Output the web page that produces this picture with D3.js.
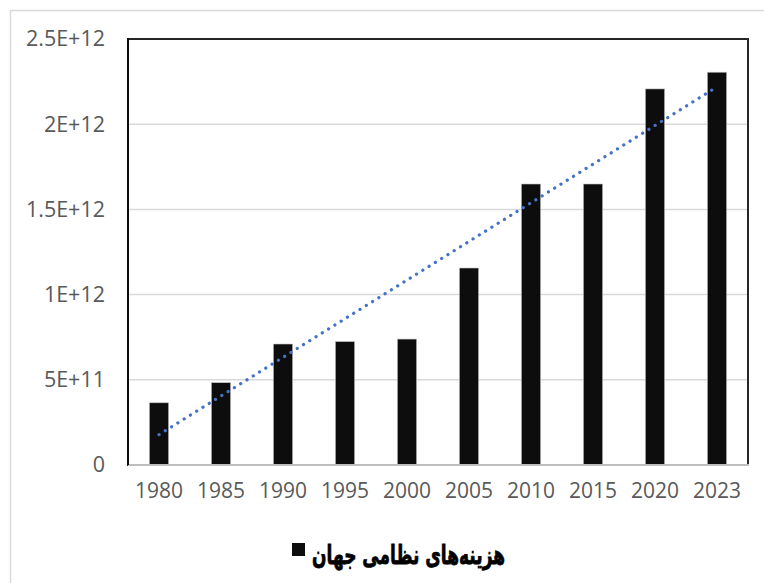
<!DOCTYPE html>
<html>
<head>
<meta charset="utf-8">
<script src="https://cdn.jsdelivr.net/npm/d3@7"></script>
<style>
  html, body { margin: 0; padding: 0; background: #fff; }
  svg { display: block; }
</style>
</head>
<body>
<svg id="chart" width="764" height="583"></svg>
<script>
// Data
const years = ["1980", "1985", "1990", "1995", "2000", "2005", "2010", "2015", "2020", "2023"];
const spending = [3.65e11, 4.83e11, 7.10e11, 7.24e11, 7.39e11, 1.156e12, 1.649e12, 1.649e12, 2.207e12, 2.305e12];
const yTicks = [0, 5e11, 1e12, 1.5e12, 2e12, 2.5e12];
const yTickLabels = ["0", "5E+11", "1E+12", "1.5E+12", "2E+12", "2.5E+12"];
const legendLabel = "هزینه‌های نظامی جهان";

const svg = d3.select("#chart");
const plot = { left: 128, right: 748, top: 39, bottom: 465 };

// Outer chart border
svg.append("rect")
  .attr("x", 10.5).attr("y", 10.5)
  .attr("width", 800).attr("height", 800)
  .attr("fill", "#fff").attr("stroke", "#d9d9d9").attr("stroke-width", 1.5);

const x = d3.scaleBand().domain(years).range([plot.left, plot.right]).padding(0);
const y = d3.scaleLinear().domain([0, 2.5e12]).range([plot.bottom, plot.top]);

// Gridlines
svg.append("g").selectAll("line")
  .data(yTicks.slice(1))
  .join("line")
  .attr("x1", plot.left).attr("x2", plot.right)
  .attr("y1", d => y(d)).attr("y2", d => y(d))
  .attr("stroke", "#d9d9d9").attr("stroke-width", 1.5);

// Y axis labels
const yAxis = d3.axisLeft(y).tickValues(yTicks)
  .tickFormat((d, i) => yTickLabels[i]).tickSize(0).tickPadding(23);
const gy = svg.append("g").attr("transform", `translate(${plot.left},0)`).call(yAxis);
gy.select(".domain").remove();
gy.selectAll("text")
  .attr("font-family", "'Open Sans', sans-serif")
  .attr("font-size", "21.5px")
  .attr("fill", "#595959");

// Bars
const barW = x.bandwidth() * 0.31;
svg.append("g").selectAll("rect")
  .data(years.map((d, i) => ({ year: d, v: spending[i] })))
  .join("rect")
  .attr("x", d => x(d.year) + (x.bandwidth() - barW) / 2)
  .attr("width", barW)
  .attr("y", d => y(d.v))
  .attr("height", d => y(0) - y(d.v))
  .attr("fill", "#0d0d0d")
  .attr("stroke", "#bfbfbf").attr("stroke-width", 0.6);

// Linear trendline (least squares over category index)
const n = spending.length;
const xs = d3.range(1, n + 1);
const mx = d3.mean(xs), my = d3.mean(spending);
const slope = d3.sum(xs.map((xi, i) => (xi - mx) * (spending[i] - my))) / d3.sum(xs.map(xi => (xi - mx) ** 2));
const intercept = my - slope * mx;
const trend = [
  { cx: x(years[0]) + x.bandwidth() / 2, v: intercept + slope * 1 },
  { cx: x(years[n - 1]) + x.bandwidth() / 2, v: intercept + slope * n }
];
svg.append("path")
  .attr("d", d3.line().x(d => d.cx).y(d => y(d.v))(trend))
  .attr("fill", "none")
  .attr("stroke", "#4472c4")
  .attr("stroke-width", 3.2)
  .attr("stroke-linecap", "round")
  .attr("stroke-dasharray", "0.1 7.3");

// Plot area border
svg.append("rect")
  .attr("x", plot.left).attr("y", plot.top)
  .attr("width", plot.right - plot.left).attr("height", plot.bottom - plot.top)
  .attr("fill", "none").attr("stroke", "#262626").attr("stroke-width", 2);

// Bottom axis line
svg.append("line")
  .attr("x1", plot.left).attr("x2", plot.right + 1)
  .attr("y1", plot.bottom).attr("y2", plot.bottom)
  .attr("stroke", "#bfbfbf").attr("stroke-width", 2.2);
svg.append("line")
  .attr("x1", plot.left).attr("x2", plot.left)
  .attr("y1", plot.top - 1).attr("y2", plot.bottom)
  .attr("stroke", "#0d0d0d").attr("stroke-width", 2);

// X axis labels
const xAxis = d3.axisBottom(x).tickSize(0).tickPadding(18);
const gx = svg.append("g").attr("transform", `translate(0,${plot.bottom})`).call(xAxis);
gx.select(".domain").remove();
gx.selectAll("text")
  .attr("font-family", "'Open Sans', sans-serif")
  .attr("font-size", "21px")
  .attr("fill", "#595959");

// Legend
svg.append("rect")
  .attr("x", 292).attr("y", 543)
  .attr("width", 13).attr("height", 13)
  .attr("fill", "#0d0d0d");
const lg = svg.append("g").attr("transform", "translate(505,564)");
const lt = lg.append("text")
  .attr("x", 0).attr("y", 0)
  .attr("text-anchor", "end")
  .attr("font-family", "'DejaVu Sans', sans-serif")
  .attr("font-weight", "bold")
  .attr("font-size", "26px")
  .attr("fill", "#000")
  .attr("stroke", "#000").attr("stroke-width", 0.8)
  .text(legendLabel);
const bb = lt.node().getBBox();
if (bb.width > 0) {
  lg.attr("transform", `translate(505,564) scale(${193 / bb.width},1)`);
}
</script>
</body>
</html>
